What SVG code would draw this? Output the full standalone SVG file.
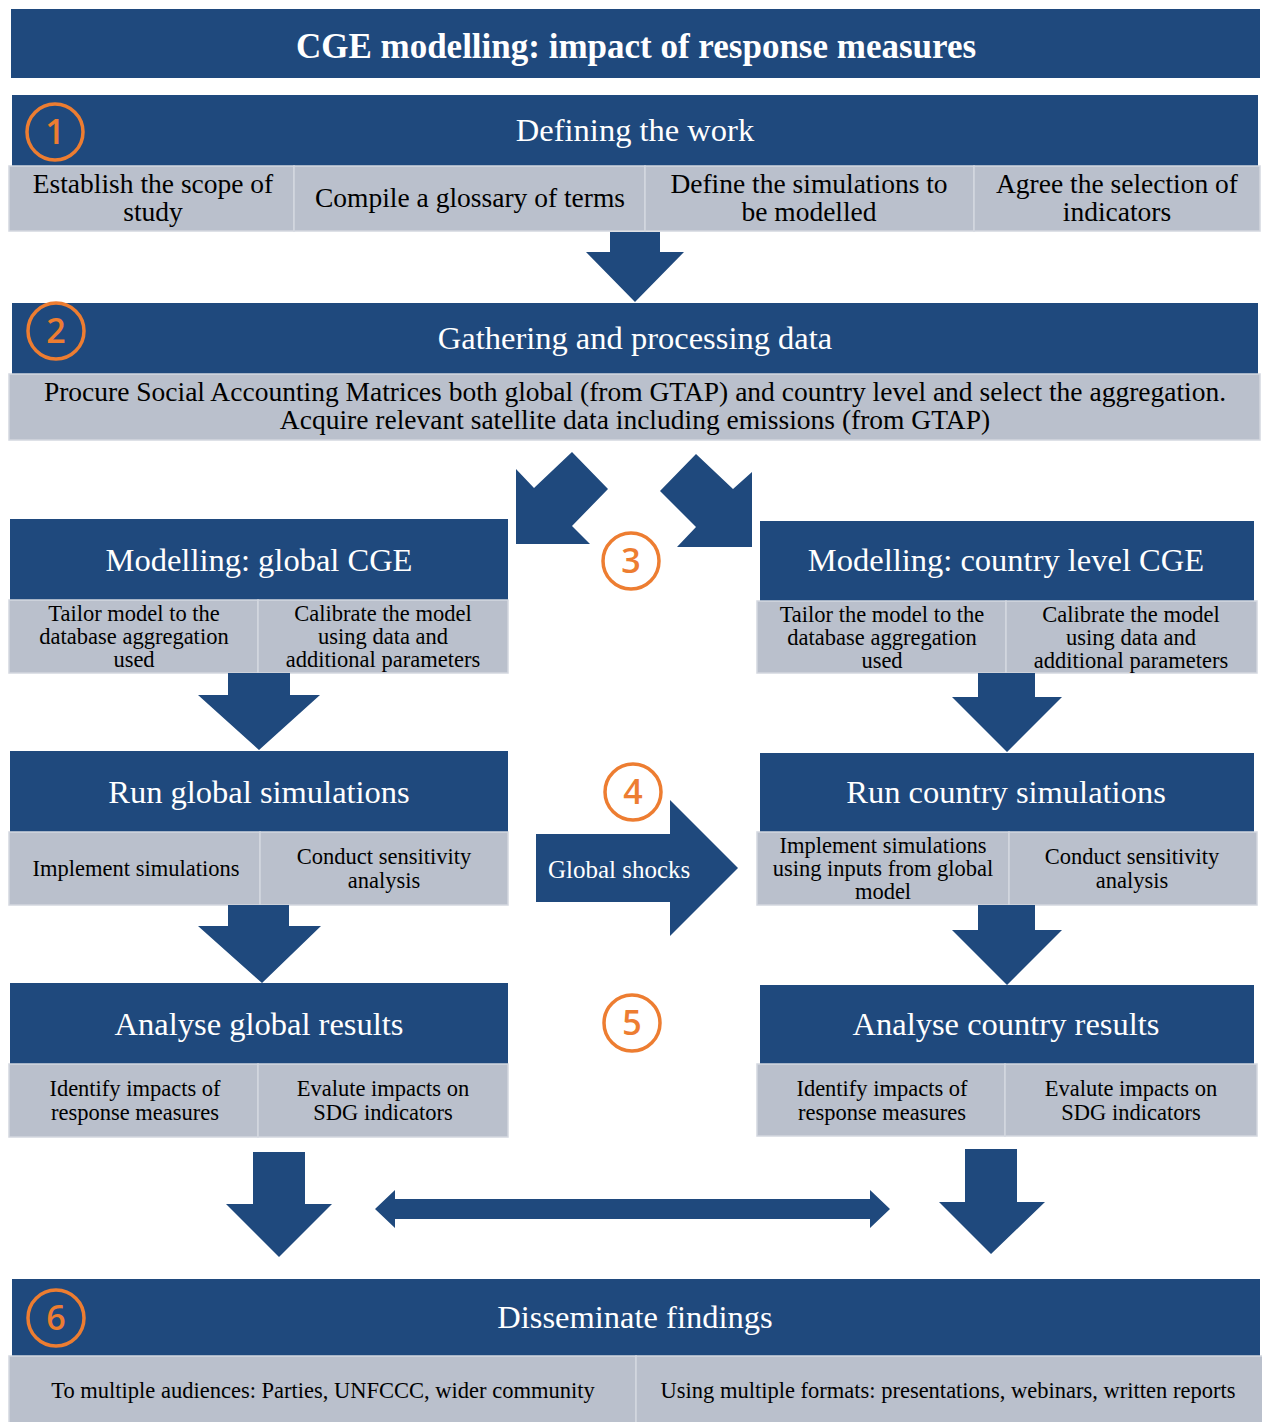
<svg xmlns="http://www.w3.org/2000/svg" width="1262" height="1422" viewBox="0 0 1262 1422">
  <style>
    .hdr { fill: #1f497d; }
    .cell { fill: #bac0cc; stroke: #d3d7df; stroke-width: 1.5; }
    .arr { fill: #1f497d; }
    .title { font-family: "Liberation Serif", serif; font-weight: bold; font-size: 35px; fill: #ffffff; text-anchor: middle; }
    .htxt { font-family: "Liberation Serif", serif; font-size: 32.5px; fill: #ffffff; text-anchor: middle; }
    .ctxt { font-family: "Liberation Serif", serif; font-size: 27.5px; fill: #000000; text-anchor: middle; }
    .stxt { font-family: "Liberation Serif", serif; font-size: 22.5px; fill: #000000; text-anchor: middle; }
    .ring { fill: none; stroke: #ed7d31; stroke-width: 3.5; }
    .num { font-family: "Open Sans", "Liberation Sans", sans-serif; font-weight: 600; font-size: 34px; fill: #ed7d31; text-anchor: middle; }
  </style>

  <rect width="1262" height="1422" fill="#ffffff"/>

  <!-- title bar -->
  <g id="title">
    <rect class="hdr" x="11" y="9" width="1249" height="69"/>
    <text class="title" x="636" y="58">CGE modelling: impact of response measures</text>
  </g>

  <!-- step 1 -->
  <g id="step1">
    <rect class="hdr" x="12" y="95" width="1246" height="71"/>
    <text class="htxt" x="635" y="141">Defining the work</text>
    <rect class="cell" x="9" y="166" width="285" height="65"/>
    <rect class="cell" x="294" y="166" width="351" height="65"/>
    <rect class="cell" x="645" y="166" width="329" height="65"/>
    <rect class="cell" x="974" y="166" width="286" height="65"/>
    <text class="ctxt" x="153" y="193">Establish the scope of</text>
    <text class="ctxt" x="153" y="221">study</text>
    <text class="ctxt" x="470" y="207">Compile a glossary of terms</text>
    <text class="ctxt" x="809" y="193">Define the simulations to</text>
    <text class="ctxt" x="809" y="221">be modelled</text>
    <text class="ctxt" x="1117" y="193">Agree the selection of</text>
    <text class="ctxt" x="1117" y="221">indicators</text>
    <circle class="ring" cx="55" cy="132" r="28"/>
    <text class="num" x="55" y="144">1</text>
  </g>

  <!-- step 2 -->
  <g id="step2">
    <rect class="hdr" x="12" y="303" width="1246" height="71"/>
    <text class="htxt" x="635" y="349">Gathering and processing data</text>
    <rect class="cell" x="9" y="374" width="1251" height="66"/>
    <text class="ctxt" x="635" y="401">Procure Social Accounting Matrices both global (from GTAP) and country level and select the aggregation.</text>
    <text class="ctxt" x="635" y="429">Acquire relevant satellite data including emissions (from GTAP)</text>
    <circle class="ring" cx="56" cy="331" r="28"/>
    <text class="num" x="56" y="343">2</text>
  </g>

  <!-- step 3 marker -->
  <g id="step3">
    <circle class="ring" cx="631" cy="561" r="28"/>
    <text class="num" x="631" y="573">3</text>
  </g>

  <!-- global CGE model -->
  <g id="model-global">
    <rect class="hdr" x="10" y="519" width="498" height="81"/>
    <text class="htxt" x="259" y="571">Modelling: global CGE</text>
    <rect class="cell" x="9" y="600" width="249" height="73"/>
    <rect class="cell" x="258" y="600" width="250" height="73"/>
    <text class="stxt" x="134" y="621">Tailor model to the</text>
    <text class="stxt" x="134" y="644">database aggregation</text>
    <text class="stxt" x="134" y="667">used</text>
    <text class="stxt" x="383" y="621">Calibrate the model</text>
    <text class="stxt" x="383" y="644">using data and</text>
    <text class="stxt" x="383" y="667">additional parameters</text>
  </g>

  <!-- country CGE model -->
  <g id="model-country">
    <rect class="hdr" x="760" y="521" width="494" height="80"/>
    <text class="htxt" x="1006" y="571">Modelling: country level CGE</text>
    <rect class="cell" x="757" y="601" width="249" height="72"/>
    <rect class="cell" x="1006" y="601" width="251" height="72"/>
    <text class="stxt" x="882" y="622">Tailor the model to the</text>
    <text class="stxt" x="882" y="645">database aggregation</text>
    <text class="stxt" x="882" y="668">used</text>
    <text class="stxt" x="1131" y="622">Calibrate the model</text>
    <text class="stxt" x="1131" y="645">using data and</text>
    <text class="stxt" x="1131" y="668">additional parameters</text>
  </g>

  <!-- global simulations -->
  <g id="run-global">
    <rect class="hdr" x="10" y="751" width="498" height="81"/>
    <text class="htxt" x="259" y="803">Run global simulations</text>
    <rect class="cell" x="9" y="832" width="251" height="73"/>
    <rect class="cell" x="260" y="832" width="248" height="73"/>
    <text class="stxt" x="136" y="876">Implement simulations</text>
    <text class="stxt" x="384" y="864">Conduct sensitivity</text>
    <text class="stxt" x="384" y="888">analysis</text>
  </g>

  <!-- step 4 marker -->
  <g id="step4">
    <circle class="ring" cx="633" cy="792" r="28"/>
    <text class="num" x="633" y="804">4</text>
  </g>

  <!-- country simulations -->
  <g id="run-country">
    <rect class="hdr" x="760" y="753" width="494" height="79"/>
    <text class="htxt" x="1006" y="803">Run country simulations</text>
    <rect class="cell" x="757" y="832" width="252" height="73"/>
    <rect class="cell" x="1009" y="832" width="248" height="73"/>
    <text class="stxt" x="883" y="853">Implement simulations</text>
    <text class="stxt" x="883" y="876">using inputs from global</text>
    <text class="stxt" x="883" y="899">model</text>
    <text class="stxt" x="1132" y="864">Conduct sensitivity</text>
    <text class="stxt" x="1132" y="888">analysis</text>
  </g>

  <!-- global results -->
  <g id="analyse-global">
    <rect class="hdr" x="10" y="983" width="498" height="81"/>
    <text class="htxt" x="259" y="1035">Analyse global results</text>
    <rect class="cell" x="9" y="1064" width="249" height="73"/>
    <rect class="cell" x="258" y="1064" width="250" height="73"/>
    <text class="stxt" x="135" y="1096">Identify impacts of</text>
    <text class="stxt" x="135" y="1120">response measures</text>
    <text class="stxt" x="383" y="1096">Evalute impacts on</text>
    <text class="stxt" x="383" y="1120">SDG indicators</text>
  </g>

  <!-- step 5 marker -->
  <g id="step5">
    <circle class="ring" cx="632" cy="1023" r="28"/>
    <text class="num" x="632" y="1035">5</text>
  </g>

  <!-- country results -->
  <g id="analyse-country">
    <rect class="hdr" x="760" y="985" width="494" height="79"/>
    <text class="htxt" x="1006" y="1035">Analyse country results</text>
    <rect class="cell" x="757" y="1064" width="248" height="72"/>
    <rect class="cell" x="1005" y="1064" width="252" height="72"/>
    <text class="stxt" x="882" y="1096">Identify impacts of</text>
    <text class="stxt" x="882" y="1120">response measures</text>
    <text class="stxt" x="1131" y="1096">Evalute impacts on</text>
    <text class="stxt" x="1131" y="1120">SDG indicators</text>
  </g>

  <!-- step 6 -->
  <g id="step6">
    <rect class="hdr" x="12" y="1279" width="1248" height="77"/>
    <text class="htxt" x="635" y="1328">Disseminate findings</text>
    <rect class="cell" x="9" y="1356" width="627" height="68"/>
    <rect class="cell" x="636" y="1356" width="627" height="68"/>
    <text class="stxt" x="323" y="1398">To multiple audiences: Parties, UNFCCC, wider community</text>
    <text class="stxt" x="948" y="1398">Using multiple formats: presentations, webinars, written reports</text>
    <circle class="ring" cx="56" cy="1318" r="28"/>
    <text class="num" x="56" y="1330">6</text>
  </g>

  <!-- block arrows -->
  <g id="connectors">
    <polygon class="arr" points="610,232 660,232 660,252 684,252 635,302 586,252 610,252"/>
    <polygon class="arr" points="516,469 534,488 572,452 608,489 572,526 590,544 516,544"/>
    <polygon class="arr" points="660,491 696,454 733,489 752,472 752,547 677,547 696,527"/>
    <polygon class="arr" points="228,673 290,673 290,695 320,695 259,750 198,695 228,695"/>
    <polygon class="arr" points="978,673 1035,673 1035,697 1062,697 1007,752 952,697 978,697"/>
    <polygon class="arr" points="228,905 289,905 289,926 321,926 262,983 198,926 228,926"/>
    <polygon class="arr" points="978,905 1035,905 1035,930 1062,930 1007,985 952,930 978,930"/>
    <polygon class="arr" points="536,834 670,834 670,800 738,868 670,936 670,902 536,902"/>
    <text x="548" y="878" style="font-family:'Liberation Serif', serif; font-size:25px; fill:#ffffff">Global shocks</text>
    <polygon class="arr" points="253,1152 305,1152 305,1204 332,1204 279,1257 226,1204 253,1204"/>
    <polygon class="arr" points="375,1209 395,1190 395,1199 870,1199 870,1190 890,1209 870,1228 870,1219 395,1219 395,1228"/>
    <polygon class="arr" points="965,1149 1017,1149 1017,1202 1045,1202 991,1254 939,1202 965,1202"/>
  </g>
</svg>
